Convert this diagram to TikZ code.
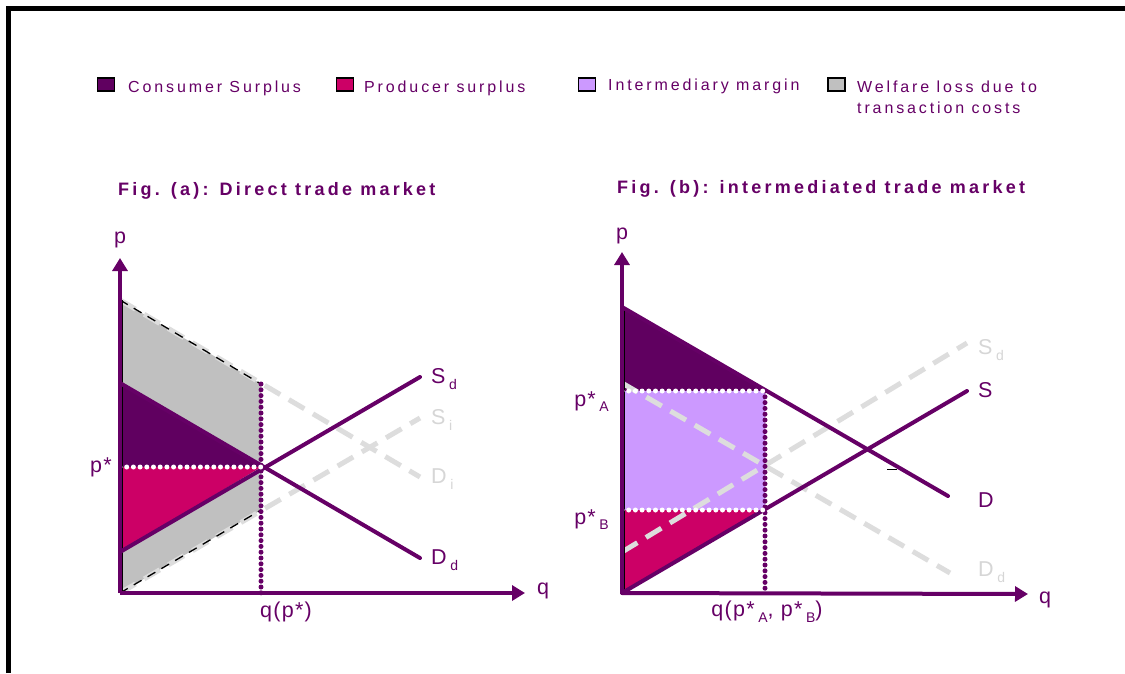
\documentclass[tikz,border=0pt]{standalone}
\usepackage{fontspec}
\setmainfont{Liberation Sans}
\usetikzlibrary{arrows.meta}
\definecolor{pur}{HTML}{660066}
\definecolor{cscol}{HTML}{600060}
\definecolor{pscol}{HTML}{CC0066}
\definecolor{imcol}{HTML}{CC99FF}
\definecolor{wlcol}{HTML}{C0C0C0}
\definecolor{lgcol}{HTML}{DDDDDD}
\definecolor{lgtcol}{HTML}{D6D6D6}
\newcommand{\sbx}[1]{\,\raisebox{-0.5ex}{\fontsize{14}{14}\selectfont #1}}
\begin{document}
\begin{tikzpicture}[x=1pt,y=-1pt,
  curve/.style={pur, line width=4pt, line cap=round},
  gcurve/.style={lgcol, line width=5pt, dash pattern=on 18pt off 10pt},
  bdash/.style={black, line width=1.3pt, dash pattern=on 9pt off 7pt},
  wdots/.style={white, line width=5pt, line cap=round, dash pattern=on 0pt off 6.7pt},
  pdots/.style={pur, line width=5pt, line cap=round, dash pattern=on 0pt off 5.8pt},
  axisline/.style={pur, line width=4pt, -{Triangle[length=13pt,width=15pt]}},
  lgbox/.style={draw=black, line width=1.5pt, minimum width=17pt, minimum height=13pt, inner sep=0pt},
  lgtext/.style={pur, anchor=base west, inner sep=0pt, font=\fontsize{16}{19}\selectfont\addfontfeature{LetterSpace=18}},
  figtitle/.style={pur, anchor=base west, inner sep=0pt, font=\fontsize{18}{20}\selectfont\bfseries\addfontfeature{LetterSpace=18}},
  lbl/.style={inner sep=0pt, font=\fontsize{21.5}{23}\selectfont\addfontfeature{LetterSpace=6}}
]
\useasboundingbox (0,0) rectangle (1125,673);
\fill[white] (0,0) rectangle (1125,673);
% frame
\draw[black, line width=5pt] (8.5,673) -- (8.5,8.5) -- (1125,8.5);

% legend
\node[lgbox, fill=cscol] (lb1) at (106,84.5) {};
\node[lgtext] (lt1) at (128,92) {Consumer Surplus};
\node[lgbox, fill=pscol] (lb2) at (345,84.5) {};
\node[lgtext] (lt2) at (364,92) {Producer surplus};
\node[lgbox, fill=imcol] (lb3) at (587,84.5) {};
\node[lgtext] (lt3) at (608,90) {Intermediary margin};
\node[lgbox, fill=wlcol] (lb4) at (836.5,84.5) {};
\node[lgtext] (lt4) at (857,92) {Welfare loss due to};
\node[lgtext] (lt5) at (857,113) {transaction costs};

% titles
\node[figtitle] (ta) at (118,195) {Fig. (a): Direct trade market};
\node[figtitle] (tb) at (617,193) {Fig. (b): intermediated trade market};

% ---------- panel (a) ----------
\coordinate (aO) at (120,593);
\coordinate (aDi0) at (120,300);
\coordinate (aDi1) at (420,477);
\coordinate (aSi1) at (420,418);
\coordinate (aDiq) at (261,384);
\coordinate (aSiq) at (261,510);
\coordinate (aDd0) at (120,383);
\coordinate (aDd1) at (420,558);
\coordinate (aSd0) at (120,552);
\coordinate (aSd1) at (420,377);
\coordinate (aE) at (261,467);
\coordinate (aP) at (120,467);
\coordinate (aQ) at (261,593);
\coordinate (aYt) at (120,258);
\coordinate (aXt) at (525,593);

\fill[wlcol] (aDi0) -- (aDiq) -- (aSiq) -- (aO) -- cycle;
\fill[cscol] (aDd0) -- (aE) -- (aP) -- cycle;
\fill[pscol] (aP) -- (aE) -- (aSd0) -- cycle;
\draw[gcurve] (aDi0) -- (aDi1);
\draw[gcurve] (aO) -- (aSi1);
\draw[bdash] (aDi0) -- (aDiq);
\draw[bdash] (aO) -- (aSiq);
\draw[black, line width=1.3pt] (122,300) -- (122,593);
\draw[curve] (aSd0) -- (aSd1);
\draw[curve] (aDd0) -- (aDd1);
\draw[pdots] (aDiq) -- (aQ);
\draw[wdots] (aP) -- (aE);
\draw[axisline] (aO) -- (aYt);
\draw[axisline] (aO) -- (aXt);

\node[lbl, pur] (apl) at (120,240) {p};
\node[lbl, pur] (aql) at (543,591) {q};
\node[lbl, pur, anchor=west] (asd) at (431,379) {S\sbx{d}};
\node[lbl, lgtcol, anchor=west] (asi) at (431,420) {S\sbx{i}};
\node[lbl, lgtcol, anchor=west] (adi) at (431,479) {D\sbx{i}};
\node[lbl, pur, anchor=west] (add) at (431,560) {D\sbx{d}};
\node[lbl, pur, anchor=east] (aps) at (112,467) {p*};
\node[lbl, pur] (aqp) at (286,612) {q(p*)};

% ---------- panel (b) ----------
\coordinate (bO) at (622,593);
\coordinate (bD0) at (622,307);
\coordinate (bD1) at (948,496);
\coordinate (bS1) at (967,391);
\coordinate (bSd0) at (622,552);
\coordinate (bSd1) at (967,343);
\coordinate (bDd0) at (622,383);
\coordinate (bDd1) at (950,573);
\coordinate (bA) at (765,391);
\coordinate (bB) at (765,510);
\coordinate (bPA) at (622,391);
\coordinate (bPB) at (622,510);
\coordinate (bQ) at (765,593);
\coordinate (bYt) at (622,252);
\coordinate (bXt) at (1028,594);

\fill[cscol] (bD0) -- (bA) -- (bPA) -- cycle;
\fill[imcol] (bPA) rectangle (bB);
\fill[pscol] (bPB) -- (bB) -- (bO) -- cycle;
\draw[gcurve] (bSd0) -- (bSd1);
\draw[gcurve] (bDd0) -- (bDd1);
\draw[black, line width=1.3pt] (624,307) -- (624,593);
\draw[curve] (bD0) -- (bD1);
\draw[curve] (bO) -- (bS1);
\draw[black, line width=1pt] (887,469) -- (897,469);
\draw[pdots] (bA) -- (bQ);
\draw[wdots] (bPA) -- (bA);
\draw[wdots] (bPB) -- (bB);
\draw[axisline] (bO) -- (bYt);
\draw[axisline] (bO) -- (bXt);

\node[lbl, pur] (bpl) at (622,236) {p};
\node[lbl, pur] (bql) at (1045,600) {q};
\node[lbl, lgtcol, anchor=west] (bsd) at (978,350) {S\sbx{d}};
\node[lbl, pur, anchor=west] (bs) at (978,390) {S};
\node[lbl, pur, anchor=west] (bd) at (978,500) {D};
\node[lbl, lgtcol, anchor=west] (bdd) at (978,572) {D\sbx{d}};
\node[lbl, pur, anchor=base east] (bpa) at (609,406) {p*\sbx{A}};
\node[lbl, pur, anchor=base east] (bpb) at (609,524) {p*\sbx{B}};
\node[lbl, pur] (bqp) at (767,612) {q(p*\sbx{A}, p*\sbx{B})};
\end{tikzpicture}
\end{document}
